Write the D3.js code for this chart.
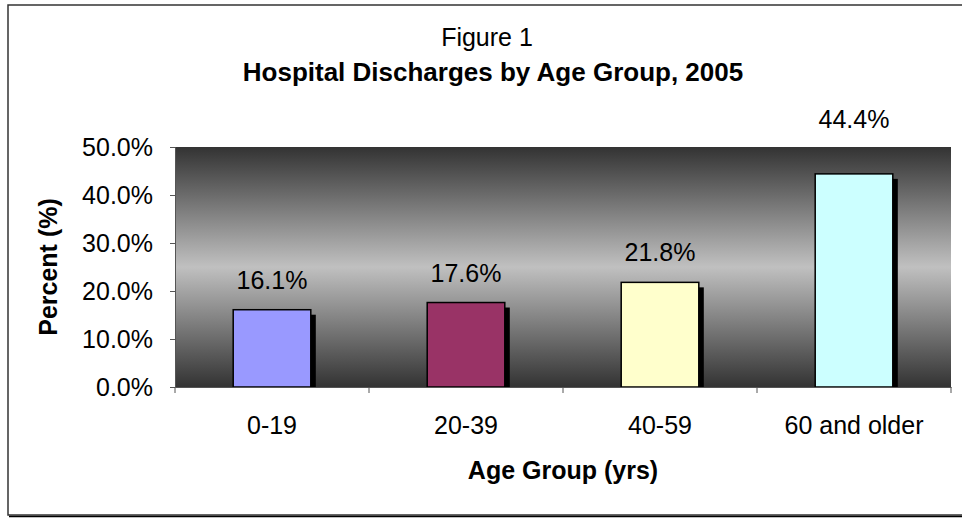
<!DOCTYPE html>
<html>
<head>
<meta charset="utf-8">
<script src="https://cdn.jsdelivr.net/npm/d3@7"></script>
<style>
  html, body { margin: 0; padding: 0; background: #fff; }
  svg { display: block; font-family: "Liberation Sans", Arial, sans-serif; }
</style>
</head>
<body>
<svg id="chart" width="962" height="518"></svg>
<script>
const categories = ["0-19", "20-39", "40-59", "60 and older"];
const values = [16.1, 17.6, 21.8, 44.4];
const barColors = ["#9999FF", "#993366", "#FFFFCC", "#CCFFFF"];
const yTicks = [0, 10, 20, 30, 40, 50];

const width = 962, height = 518;
const margin = { top: 147, right: 11, bottom: 131, left: 175 };
const fontSize = 25;
const font = "Liberation Sans, Arial, sans-serif";

const svg = d3.select("#chart");

// outer frame (right edge falls outside the picture)
svg.append("rect")
  .attr("x", 8).attr("y", 5)
  .attr("width", 970).attr("height", 510)
  .attr("fill", "#fff")
  .attr("stroke", "#333").attr("stroke-width", 1.5);
svg.append("line")
  .attr("x1", 9).attr("x2", 962)
  .attr("y1", 516.5).attr("y2", 516.5)
  .attr("stroke", "#000").attr("stroke-width", 1.5);

const x = d3.scaleBand()
  .domain(categories)
  .range([margin.left, width - margin.right])
  .paddingInner(0.6)
  .paddingOuter(0.3);

const y = d3.scaleLinear()
  .domain([0, 50])
  .range([height - margin.bottom, margin.top]);

// plot area gradient: dark - light - dark
const grad = svg.append("defs").append("linearGradient")
  .attr("id", "bg").attr("x1", 0).attr("y1", 0).attr("x2", 0).attr("y2", 1);
grad.append("stop").attr("offset", "0%").attr("stop-color", "#333333");
grad.append("stop").attr("offset", "50%").attr("stop-color", "#c0c0c0");
grad.append("stop").attr("offset", "100%").attr("stop-color", "#333333");

svg.append("rect")
  .attr("x", margin.left).attr("y", y(50))
  .attr("width", width - margin.right - margin.left)
  .attr("height", y(0) - y(50))
  .attr("fill", "url(#bg)");

// bars with shadows
const gBars = svg.append("g");
gBars.selectAll("rect.shadow")
  .data(values)
  .join("rect")
  .attr("class", "shadow")
  .attr("x", (d, i) => x(categories[i]) + 5)
  .attr("y", (d) => y(d) + 5)
  .attr("width", x.bandwidth())
  .attr("height", (d) => y(0) - y(d) - 5)
  .attr("fill", "#000");

gBars.selectAll("rect.bar")
  .data(values)
  .join("rect")
  .attr("class", "bar")
  .attr("x", (d, i) => x(categories[i]))
  .attr("y", (d) => y(d))
  .attr("width", x.bandwidth())
  .attr("height", (d) => y(0) - y(d))
  .attr("fill", (d, i) => barColors[i])
  .attr("stroke", "#000").attr("stroke-width", 1.5);

// value labels; a label that would hit the plot top goes above it
const labelY = (d) => (y(d) - 21 - 18 < y(50) ? y(50) - 19 : y(d) - 21);
svg.append("g").selectAll("text")
  .data(values)
  .join("text")
  .attr("x", (d, i) => x(categories[i]) + x.bandwidth() / 2)
  .attr("y", labelY)
  .attr("text-anchor", "middle")
  .attr("font-size", fontSize)
  .attr("fill", "#000")
  .text((d) => d.toFixed(1) + "%");

// axes
const gY = svg.append("g")
  .attr("transform", "translate(" + margin.left + ",0)")
  .call(d3.axisLeft(y).tickValues(yTicks).tickSize(5).tickPadding(17)
    .tickFormat((d) => d.toFixed(1) + "%"));
gY.select(".domain").attr("stroke", "#555");
gY.selectAll(".tick line").attr("stroke", "#555");
gY.selectAll("text").attr("font-size", fontSize).attr("font-family", font).attr("fill", "#000");

const xEdges = d3.scaleBand().domain(categories).range([margin.left, width - margin.right]);
const gX = svg.append("g")
  .attr("transform", "translate(0," + y(0) + ")")
  .call(d3.axisBottom(xEdges).tickSize(0).tickPadding(29));
gX.select(".domain").attr("stroke", "#555");
gX.selectAll("text").attr("font-size", fontSize).attr("font-family", font).attr("fill", "#000");
gX.selectAll("line.edge")
  .data([margin.left].concat(categories.map((c) => xEdges(c) + xEdges.bandwidth())))
  .join("line")
  .attr("class", "edge")
  .attr("x1", (d) => d).attr("x2", (d) => d)
  .attr("y1", 0).attr("y2", 6)
  .attr("stroke", "#555");

// titles
svg.append("text")
  .attr("x", 487).attr("y", 46)
  .attr("text-anchor", "middle").attr("font-size", fontSize)
  .text("Figure 1");
svg.append("text")
  .attr("x", 493).attr("y", 81)
  .attr("text-anchor", "middle").attr("font-size", 26).attr("font-weight", "bold")
  .text("Hospital Discharges by Age Group, 2005");

svg.append("text")
  .attr("x", (margin.left + width - margin.right) / 2).attr("y", 479)
  .attr("text-anchor", "middle").attr("font-size", fontSize).attr("font-weight", "bold")
  .text("Age Group (yrs)");

svg.append("text")
  .attr("transform", "translate(57," + y(25) + ") rotate(-90)")
  .attr("text-anchor", "middle").attr("font-size", fontSize).attr("font-weight", "bold")
  .text("Percent (%)");
</script>
</body>
</html>
